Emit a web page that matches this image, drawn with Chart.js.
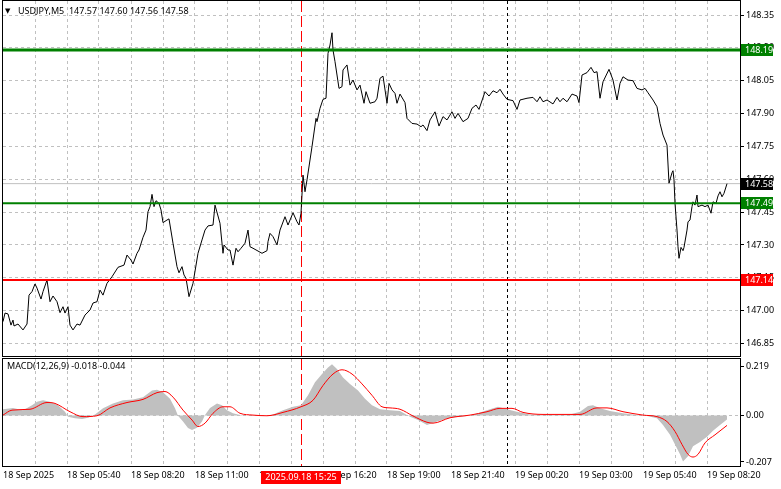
<!DOCTYPE html>
<html>
<head>
<meta charset="utf-8">
<script src="https://cdn.jsdelivr.net/npm/chart.js@4.4.1/dist/chart.umd.min.js"></script>
<style>
  html, body { margin: 0; padding: 0; background: #fff; }
  #wrap { position: relative; width: 781px; height: 489px; overflow: hidden; }
  #mainBox { position: absolute; left: 0; top: 0; width: 781px; height: 357px; }
  #macdBox { position: absolute; left: 0; top: 357px; width: 781px; height: 132px; }
</style>
</head>
<body>
<div id="wrap">
  <div id="mainBox"><canvas id="mainChart"></canvas></div>
  <div id="macdBox"><canvas id="macdChart"></canvas></div>
</div>
<script>
// DATA
const titleText = "USDJPY,M5  147.57 147.60 147.56 147.58";
const macdText = "MACD(12,26,9) -0.018 -0.044";

// x = bar number (M5 bars counted from 18 Sep 03:00), y = price
const priceBars = [
  0, 1, 2.5, 4, 5, 5.5, 7.5, 10, 12, 13, 14.5, 16, 17, 19, 20, 22, 23.5, 25, 27, 28.5,
  30, 31, 32.5, 33.5, 35, 37, 38.5, 41, 43.5, 45, 47, 48.5, 50, 52, 54.5, 57.5, 60.5, 62, 64, 65,
  67, 68, 70, 71.5, 72.5, 73.5, 74.5, 75.5, 76.5, 78, 79, 80, 82, 83, 85, 87, 88, 89.5, 90.5, 91.5,
  93, 95, 97.5, 99.5, 101, 102.5, 105, 106, 108.5, 110, 110.5, 112.5, 113.5, 115, 116.5, 117.5, 119, 121, 122.5, 123.5,
  125, 129.5, 132, 132.5, 133.5, 135, 137, 138.5, 141, 142.5, 145, 147, 148, 149, 150, 151, 152, 154.5, 156.5, 157,
  158.5, 160, 161.5, 162.5, 163.5, 164.5, 165, 166, 168, 169.5, 170, 172, 173.5, 175, 177, 178.5, 180.5, 181.5, 183.5, 186,
  187, 188.5, 190, 192, 193, 194.5, 196, 197, 198.5, 201, 202, 204.5, 207, 209, 210, 212, 213.5, 216, 218, 220,
  222, 224.5, 226, 227.5, 230, 232.5, 234.5, 236.5, 238, 241, 243, 245, 247, 248.5, 250, 252, 255, 257, 258.5, 262,
  265, 267, 268.5, 270, 272, 275, 277, 278.5, 280, 282, 284.5, 287, 288, 289.5, 292, 294, 295.5, 297, 298.5, 300,
  303, 305, 307, 308.5, 310, 312.5, 315, 317, 319.5, 321, 322.5, 325, 327, 328.5, 330, 332, 333, 334.5, 335, 335.5,
  336, 337, 337.5, 338, 339, 340, 340.5, 342, 342.5, 343.5, 344.5, 345, 346, 347, 347.5, 349.5, 351, 352.5, 354, 355,
  356.5, 357.5, 358.5, 359.5, 360.5, 362
];
const priceValues = [
  146.950, 146.989, 146.985, 146.934, 146.957, 146.930, 146.939, 146.912, 146.939, 147.071, 147.087, 147.122, 147.103, 147.053, 147.087, 147.140, 147.041, 147.067, 147.041, 146.991,
  147.018, 146.989, 147.018, 146.934, 146.912, 146.939, 146.934, 146.980, 147.003, 147.035, 147.041, 147.094, 147.071, 147.125, 147.155, 147.198, 147.208, 147.254, 147.231, 147.213,
  147.262, 147.277, 147.335, 147.368, 147.452, 147.475, 147.531, 147.475, 147.502, 147.490, 147.460, 147.402, 147.414, 147.419, 147.308, 147.201, 147.173, 147.201, 147.163, 147.148,
  147.064, 147.125, 147.262, 147.323, 147.368, 147.387, 147.391, 147.482, 147.399, 147.262, 147.300, 147.277, 147.277, 147.208, 147.285, 147.269, 147.285, 147.308, 147.368, 147.292,
  147.285, 147.262, 147.274, 147.315, 147.353, 147.338, 147.300, 147.368, 147.429, 147.391, 147.447, 147.406, 147.391, 147.445, 147.619, 147.543, 147.597, 147.749, 147.878, 147.863,
  147.924, 147.965, 147.970, 148.175, 148.213, 148.269, 148.190, 148.137, 148.015, 148.023, 148.099, 148.122, 148.030, 148.053, 148.008, 148.030, 147.947, 148.000, 147.947, 147.954,
  147.970, 148.061, 148.071, 147.947, 148.038, 148.008, 147.992, 147.947, 147.989, 147.950, 147.878, 147.855, 147.852, 147.840, 147.848, 147.822, 147.871, 147.908, 147.843, 147.886,
  147.871, 147.908, 147.878, 147.901, 147.863, 147.878, 147.924, 147.939, 147.919, 148.000, 147.980, 148.004, 147.995, 148.011, 147.989, 147.965, 147.959, 147.919, 147.962, 147.970,
  147.974, 147.954, 147.977, 147.954, 147.962, 147.944, 147.974, 147.954, 147.970, 147.954, 147.989, 147.980, 147.950, 148.076, 148.087, 148.111, 148.087, 148.091, 147.970, 148.045,
  148.102, 148.053, 147.962, 148.038, 148.068, 148.053, 148.050, 148.015, 148.008, 148.015, 147.995, 147.962, 147.931, 147.855, 147.802, 147.756, 147.582, 147.630, 147.639, 147.597,
  147.490, 147.368, 147.292, 147.239, 147.289, 147.274, 147.289, 147.368, 147.406, 147.414, 147.475, 147.497, 147.482, 147.528, 147.475, 147.482, 147.475, 147.482, 147.445, 147.497,
  147.490, 147.524, 147.543, 147.520, 147.536, 147.580
];

const levelValues = [148.19, 147.49, 147.14];
const lastPrice = 147.58;
const priceTicks = [146.85, 147.00, 147.15, 147.30, 147.45, 147.60, 147.75, 147.90, 148.05, 148.20, 148.35];

// MACD main line (histogram) and signal line
const histBars = [
  0, 5, 10, 14.5, 17, 20, 23.5, 27.5, 31, 32.5, 36, 39.5, 42.5, 46, 50, 55, 60, 65, 70, 74.5,
  77, 80, 83.5, 86, 87.5, 90, 92.5, 94.5, 97, 99.5, 101, 103.5, 107, 109.5, 112, 115, 118.5, 123.5, 130, 135,
  140, 145, 149, 152.5, 156, 159.5, 162.5, 164.5, 167, 170, 173.5, 177.5, 181, 184.5, 188.5, 193.5, 198.5, 203.5, 207.5, 212,
  217, 223.5, 233.5, 238.5, 243.5, 247.5, 252, 257, 263.5, 273.5, 283.5, 288.5, 292.5, 295, 298.5, 303.5, 310, 317, 322, 327,
  330, 333.5, 336, 338.5, 340, 342.5, 345, 348.5, 352, 355, 358.5, 362
];
const histValues = [
  0.028, 0.034, 0.024, 0.046, 0.061, 0.068, 0.061, 0.046, 0.017, -0.005, -0.012, -0.015, -0.010, 0.005, 0.032, 0.054, 0.068, 0.072, 0.082, 0.112,
  0.115, 0.104, 0.075, 0.032, -0.001, -0.027, -0.056, -0.064, -0.054, -0.027, 0.002, 0.034, 0.054, 0.046, 0.024, 0.010, 0.002, -0.001, -0.002, 0.005,
  0.024, 0.039, 0.046, 0.090, 0.148, 0.185, 0.214, 0.229, 0.207, 0.170, 0.141, 0.112, 0.075, 0.046, 0.028, 0.024, 0.020, -0.005, -0.020, -0.042,
  -0.027, -0.010, -0.001, 0.014, 0.028, 0.039, 0.028, 0.017, 0.005, 0.002, 0.005, 0.017, 0.043, 0.046, 0.032, 0.020, 0.010, 0.002, -0.002, -0.012,
  -0.042, -0.086, -0.129, -0.173, -0.205, -0.181, -0.137, -0.118, -0.095, -0.068, -0.042, -0.018
];
const signalBars = [
  0, 4.5, 13.5, 22, 26, 33.5, 40, 47, 53.5, 62, 70, 77, 81, 85, 90, 94.5, 97.5, 101, 105, 110,
  113.5, 118.5, 125, 132, 140, 149, 155, 160, 165, 169.5, 174.5, 179.5, 184.5, 189.5, 193.5, 198.5, 205, 212, 215, 223.5,
  233.5, 242, 248.5, 254.5, 260, 270, 288.5, 297, 302, 310, 320, 327, 332, 336, 339.5, 342.5, 345, 347.5, 351, 356, 362
];
const signalValues = [
  0.002, 0.024, 0.028, 0.058, 0.054, 0.017, -0.005, -0.001, 0.034, 0.058, 0.072, 0.102, 0.107, 0.082, 0.024, -0.020, -0.049, -0.034, 0.010, 0.039,
  0.039, 0.010, 0.002, -0.001, 0.014, 0.039, 0.068, 0.134, 0.185, 0.204, 0.185, 0.141, 0.090, 0.039, 0.034, 0.028, -0.002, -0.030, -0.034, -0.010,
  0.002, 0.017, 0.032, 0.032, 0.014, 0.005, 0.005, 0.034, 0.034, 0.017, 0.002, -0.005, -0.027, -0.071, -0.129, -0.173, -0.185, -0.173, -0.122, -0.086, -0.044
];
const macdTicks = [0.219, 0, -0.207];

// one label every 32 bars
const timeLabels = [
  "18 Sep 2025", "18 Sep 05:40", "18 Sep 08:20", "18 Sep 11:00", "18 Sep 13:40", "18 Sep 16:20",
  "18 Sep 19:00", "18 Sep 21:40", "19 Sep 00:20", "19 Sep 03:00", "19 Sep 05:40", "19 Sep 08:20"
];
const markerBar = 149;
const markerLabel = "2025.09.18 15:25";
const dayBreakBar = 252;

// STYLE
const LABEL_STEP = 32;
const GRID_STEP = 16;
const X_MAX = 368.5;
const GRID = "#c0c0c0";
const FAMILY = "'Noto Sans', 'Liberation Sans', Arial, sans-serif";
const FSIZE = 9;
const FONT = { family: FAMILY, size: FSIZE };
const CANVAS_FONT = FSIZE + "px " + FAMILY;
const LEVEL_COLORS = ["#008000", "#008000", "#ff0000"];
const LEVEL_WIDTHS = [3, 2, 2];

Chart.defaults.font.family = FAMILY;
Chart.defaults.font.size = FSIZE;

const $ = (sel) => document.querySelector(sel);
const xy = (bars, vals) => bars.map((b, i) => ({ x: b, y: vals[i] }));
const hLine = (v) => [{ x: 0, y: v }, { x: X_MAX, y: v }];
const gridBars = [];
for (let b = 0; b <= 368; b += GRID_STEP) gridBars.push(b);

// no extra room for labels that stick out of the panel
function noPadding(s) {
  s.paddingTop = 0;
  s.paddingBottom = 0;
  s.paddingLeft = 0;
  s.paddingRight = 0;
}

// x axis shared by both panels
function xScale(showLabels) {
  return {
    type: "linear",
    min: 0,
    max: X_MAX,
    afterBuildTicks: (s) => { s.ticks = gridBars.map((v) => ({ value: v })); },
    ticks: {
      display: showLabels,
      autoSkip: false,
      maxRotation: 0,
      align: "start",
      padding: 4,
      color: "#000",
      font: FONT,
      callback: (v) => (v % LABEL_STEP === 0 ? timeLabels[v / LABEL_STEP] || "" : ""),
    },
    grid: {
      color: (c) => (c.tick && c.tick.value > 0 && c.tick.value < 368 ? GRID : "rgba(0,0,0,0)"),
      drawTicks: false,
    },
    border: { display: false, dash: [3, 3] },
    afterFit: (s) => {
      s.height = showLabels ? 23 : 1;
      noPadding(s);
    },
  };
}

// black frame round the panel
function drawFrame(chart) {
  const { ctx, chartArea: a } = chart;
  ctx.save();
  ctx.strokeStyle = "#000";
  ctx.lineWidth = 1;
  ctx.strokeRect(a.left - 0.5, a.top - 0.5, a.right - a.left + 1, a.bottom - a.top + 1);
  ctx.restore();
}

// vertical lines: session marker (red) and day break (black dotted)
function drawMarkers(chart) {
  const { ctx, chartArea: a, scales } = chart;
  const lines = [
    { bar: markerBar, color: "#ff0000", dash: [11, 4] },
    { bar: dayBreakBar, color: "#000", dash: [3, 3] },
  ];
  ctx.save();
  lines.forEach((l) => {
    const x = Math.round(scales.x.getPixelForValue(l.bar)) + 0.5;
    ctx.strokeStyle = l.color;
    ctx.lineWidth = 1;
    ctx.setLineDash(l.dash);
    ctx.beginPath();
    ctx.moveTo(x, a.top);
    ctx.lineTo(x, a.bottom);
    ctx.stroke();
  });
  ctx.restore();
}

function priceTag(chart, value, bg) {
  const { ctx, chartArea: a, scales } = chart;
  const y = Math.round(scales.y.getPixelForValue(value));
  ctx.fillStyle = bg;
  ctx.fillRect(a.right + 1, y - 6, 32, 12);
  ctx.fillStyle = "#fff";
  ctx.font = CANVAS_FONT;
  ctx.textBaseline = "middle";
  ctx.textAlign = "left";
  ctx.fillText(value.toFixed(2), a.right + 5, y + 0.5);
}

const mainPlugin = {
  id: "mainDecor",
  beforeDatasetsDraw: drawMarkers,
  afterDraw(chart) {
    const { ctx } = chart;
    drawFrame(chart);
    priceTag(chart, levelValues[0], LEVEL_COLORS[0]);
    priceTag(chart, lastPrice, "#000");
    priceTag(chart, levelValues[1], LEVEL_COLORS[1]);
    priceTag(chart, levelValues[2], LEVEL_COLORS[2]);
    ctx.save();
    ctx.fillStyle = "#000";
    ctx.textBaseline = "middle";
    ctx.font = "7px 'DejaVu Sans'";
    ctx.fillText("▼", 5, 11);
    ctx.font = CANVAS_FONT;
    ctx.fillText(titleText, 18, 11);
    ctx.restore();
  },
};

const macdPlugin = {
  id: "macdDecor",
  beforeDatasetsDraw: drawMarkers,
  afterDraw(chart) {
    const { ctx, chartArea: a, scales } = chart;
    drawFrame(chart);
    ctx.save();
    ctx.font = CANVAS_FONT;
    ctx.textBaseline = "middle";
    ctx.fillStyle = "#000";
    ctx.fillText(macdText, 7, a.top + 7);
    // time tag under the session marker
    const x = scales.x.getPixelForValue(markerBar);
    const w = Math.ceil(ctx.measureText(markerLabel).width) + 8;
    ctx.fillStyle = "#ff0000";
    ctx.fillRect(Math.round(x - w / 2), a.bottom + 5, w, 13);
    ctx.fillStyle = "#fff";
    ctx.textAlign = "center";
    ctx.fillText(markerLabel, x, a.bottom + 11.5);
    ctx.restore();
  },
};

const common = {
  animation: false,
  responsive: true,
  maintainAspectRatio: false,
  events: [],
  plugins: { legend: { display: false }, tooltip: { enabled: false } },
  elements: { point: { radius: 0 }, line: { tension: 0 } },
};

// PRICE PANEL
new Chart($("#mainChart"), {
  type: "line",
  data: {
    datasets: [
      ...levelValues.map((v, i) => ({
        data: hLine(v),
        borderColor: LEVEL_COLORS[i],
        borderWidth: LEVEL_WIDTHS[i],
      })),
      { data: xy(priceBars, priceValues), borderColor: "#000", borderWidth: 1 },
      { data: hLine(lastPrice), borderColor: GRID, borderWidth: 1 },
    ],
  },
  options: {
    ...common,
    layout: { padding: { left: 3, top: 1, right: 0, bottom: 0 } },
    scales: {
      x: xScale(false),
      y: {
        position: "right",
        min: 146.793,
        max: 148.414,
        afterBuildTicks: (s) => { s.ticks = priceTicks.map((v) => ({ value: v })); },
        ticks: { color: "#000", font: FONT, padding: 2, callback: (v) => v.toFixed(2) },
        grid: { color: GRID, tickColor: "#000", tickLength: 4, tickBorderDash: [] },
        border: { display: false, dash: [3, 3] },
        afterFit: (s) => {
          s.width = 41;
          noPadding(s);
        },
      },
    },
  },
  plugins: [mainPlugin],
});

// MACD PANEL
new Chart($("#macdChart"), {
  type: "line",
  data: {
    datasets: [
      {
        data: xy(signalBars, signalValues),
        borderColor: "#ff0000",
        borderWidth: 1,
        cubicInterpolationMode: "monotone",
      },
      {
        data: xy(histBars, histValues),
        borderWidth: 0,
        borderColor: "rgba(0,0,0,0)",
        backgroundColor: GRID,
        fill: "origin",
      },
    ],
  },
  options: {
    ...common,
    layout: { padding: { left: 3, top: 2, right: 0, bottom: 0 } },
    scales: {
      x: xScale(true),
      y: {
        position: "right",
        min: -0.225,
        max: 0.252,
        afterBuildTicks: (s) => { s.ticks = macdTicks.map((v) => ({ value: v })); },
        ticks: {
          color: "#000",
          font: FONT,
          padding: 2,
          callback: (v) => (v === 0 ? "0.00" : v.toFixed(3)),
        },
        grid: {
          color: (c) => (c.tick && c.tick.value === 0 ? GRID : "rgba(0,0,0,0)"),
          tickColor: "#000",
          tickLength: 4,
          tickBorderDash: [],
        },
        border: { display: false, dash: [3, 3] },
        afterFit: (s) => {
          s.width = 41;
          noPadding(s);
        },
      },
    },
  },
  plugins: [macdPlugin],
});
</script>
</body>
</html>
